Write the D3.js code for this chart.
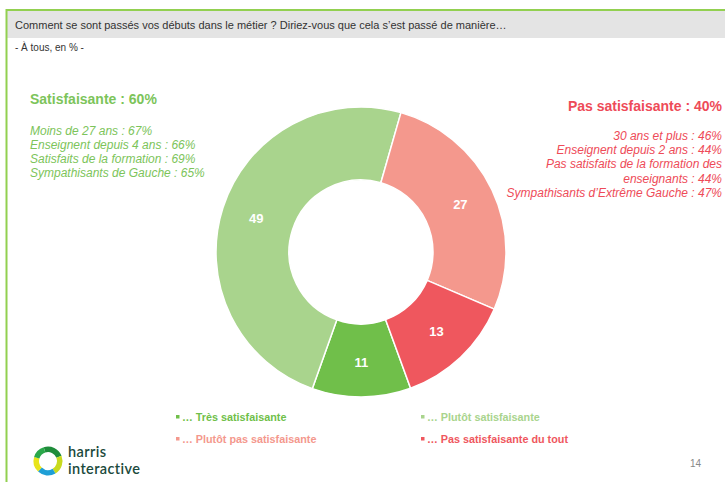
<!DOCTYPE html>
<html>
<head>
<meta charset="utf-8">
<script src="https://cdn.jsdelivr.net/npm/d3@7"></script>
<style>
  body { margin: 0; background: #fff; }
  svg { display: block; font-family: "Liberation Sans", Arial, sans-serif; }
</style>
</head>
<body>
<script>
// chart data
var categories = ["… Très satisfaisante", "… Plutôt satisfaisante", "… Plutôt pas satisfaisante", "… Pas satisfaisante du tout"];
var values = [11, 49, 27, 13];
var colors = ["#70bf4a", "#a9d48d", "#f4988d", "#ef575e"];

var question = "Comment se sont passés vos débuts dans le métier ? Diriez-vous que cela s’est passé de manière…";
var base = "- À tous, en % -";

var leftTitle = "Satisfaisante : 60%";
var leftLines = ["Moins de 27 ans : 67%", "Enseignent depuis 4 ans : 66%", "Satisfaits de la formation : 69%", "Sympathisants de Gauche : 65%"];
var rightTitle = "Pas satisfaisante : 40%";
var rightLines = ["30 ans et plus : 46%", "Enseignent depuis 2 ans : 44%", "Pas satisfaits de la formation des", "enseignants : 44%", "Sympathisants d’Extrême Gauche : 47%"];

var width = 725, height = 482;
var green = "#7cc45a", red = "#ee4b58";

var svg = d3.select("body").append("svg")
  .attr("width", width)
  .attr("height", height);

// frame + header band
svg.append("rect").attr("x", 7).attr("y", 11).attr("width", width - 7).attr("height", 27).attr("fill", "#e4e4e4");
svg.append("line").attr("x1", 6).attr("x2", width).attr("y1", 10).attr("y2", 10)
  .attr("stroke", "#92d050").attr("stroke-width", 2);
svg.append("line").attr("x1", 6.5).attr("x2", 6.5).attr("y1", 9).attr("y2", height)
  .attr("stroke", "#92d050").attr("stroke-width", 2);

svg.append("text").attr("x", 15).attr("y", 28.5)
  .attr("font-size", 11).attr("fill", "#333").text(question);
svg.append("text").attr("x", 15).attr("y", 51)
  .attr("font-size", 10).attr("fill", "#333").text(base);

// donut
var cx = 361, cy = 252, outerR = 145, innerR = 72;
var pie = d3.pie().sort(null)
  .startAngle(160 * Math.PI / 180)
  .endAngle(160 * Math.PI / 180 + 2 * Math.PI);
var arc = d3.arc().innerRadius(innerR).outerRadius(outerR);
var labelArc = d3.arc().innerRadius(110).outerRadius(110);

var g = svg.append("g").attr("transform", `translate(${cx},${cy})`);
var slices = pie(values);

g.selectAll("path")
  .data(slices)
  .enter()
  .append("path")
  .attr("d", arc)
  .attr("fill", (d, i) => colors[i])
  .attr("stroke", "#fff")
  .attr("stroke-width", 1.5);

g.selectAll("text")
  .data(slices)
  .enter()
  .append("text")
  .attr("transform", d => `translate(${labelArc.centroid(d)})`)
  .attr("text-anchor", "middle")
  .attr("dy", "0.35em")
  .attr("font-size", 13)
  .attr("font-weight", "bold")
  .attr("fill", "#fff")
  .text(d => d.data);

// left commentary
svg.append("text").attr("x", 30).attr("y", 104)
  .attr("font-size", 14).attr("font-weight", "bold").attr("fill", green).text(leftTitle);
svg.selectAll(".lline")
  .data(leftLines)
  .enter()
  .append("text")
  .attr("x", 30)
  .attr("y", (d, i) => 135 + i * 14)
  .attr("font-size", 12)
  .attr("font-style", "italic")
  .attr("fill", green)
  .text(d => d);

// right commentary
svg.append("text").attr("x", 722).attr("y", 111)
  .attr("text-anchor", "end")
  .attr("font-size", 14).attr("font-weight", "bold").attr("fill", red).text(rightTitle);
svg.selectAll(".rline")
  .data(rightLines)
  .enter()
  .append("text")
  .attr("x", 722)
  .attr("y", (d, i) => 140 + i * 14.2)
  .attr("text-anchor", "end")
  .attr("font-size", 12)
  .attr("font-style", "italic")
  .attr("fill", red)
  .text(d => d);

// legend
var legX = [176, 421], legY = [421, 443];
var leg = svg.selectAll(".leg")
  .data(categories)
  .enter()
  .append("g")
  .attr("transform", (d, i) => `translate(${legX[i % 2]},${legY[Math.floor(i / 2)]})`);
leg.append("rect").attr("x", 0).attr("y", -6).attr("width", 3.5).attr("height", 3.5)
  .attr("fill", (d, i) => colors[i]);
leg.append("text").attr("x", 6).attr("y", 0)
  .attr("font-size", 10.8).attr("font-weight", "bold")
  .attr("fill", (d, i) => colors[i])
  .text(d => d);

// logo
var logo = svg.append("g").attr("transform", "translate(48,461)");
var ringArc = d3.arc().innerRadius(9).outerRadius(14.5);
var ringParts = [
  {s: -0.3, e: 1.2, c: "#1e8c3a"},
  {s: 1.2, e: 2.6, c: "#c8da1e"},
  {s: 2.6, e: 3.9, c: "#1f9fd6"},
  {s: 3.9, e: 5.0, c: "#e8e41a"},
  {s: 5.0, e: 5.98, c: "#2aa84a"}
];
logo.selectAll("path")
  .data(ringParts)
  .enter()
  .append("path")
  .attr("d", d => ringArc({startAngle: d.s, endAngle: d.e}))
  .attr("fill", d => d.c);
svg.append("text").attr("x", 68).attr("y", 457)
  .attr("font-size", 14.5).attr("font-weight", 600).attr("fill", "#1b4a3c")
  .attr("letter-spacing", 0.4)
  .attr("font-family", "Lato, sans-serif").text("harris");
svg.append("text").attr("x", 68).attr("y", 474)
  .attr("font-size", 14.5).attr("font-weight", 600).attr("fill", "#1b4a3c")
  .attr("letter-spacing", 0.4)
  .attr("font-family", "Lato, sans-serif").text("interactive");

// page number
svg.append("text").attr("x", 690).attr("y", 467)
  .attr("font-size", 10).attr("fill", "#888").text("14");
</script>
</body>
</html>
